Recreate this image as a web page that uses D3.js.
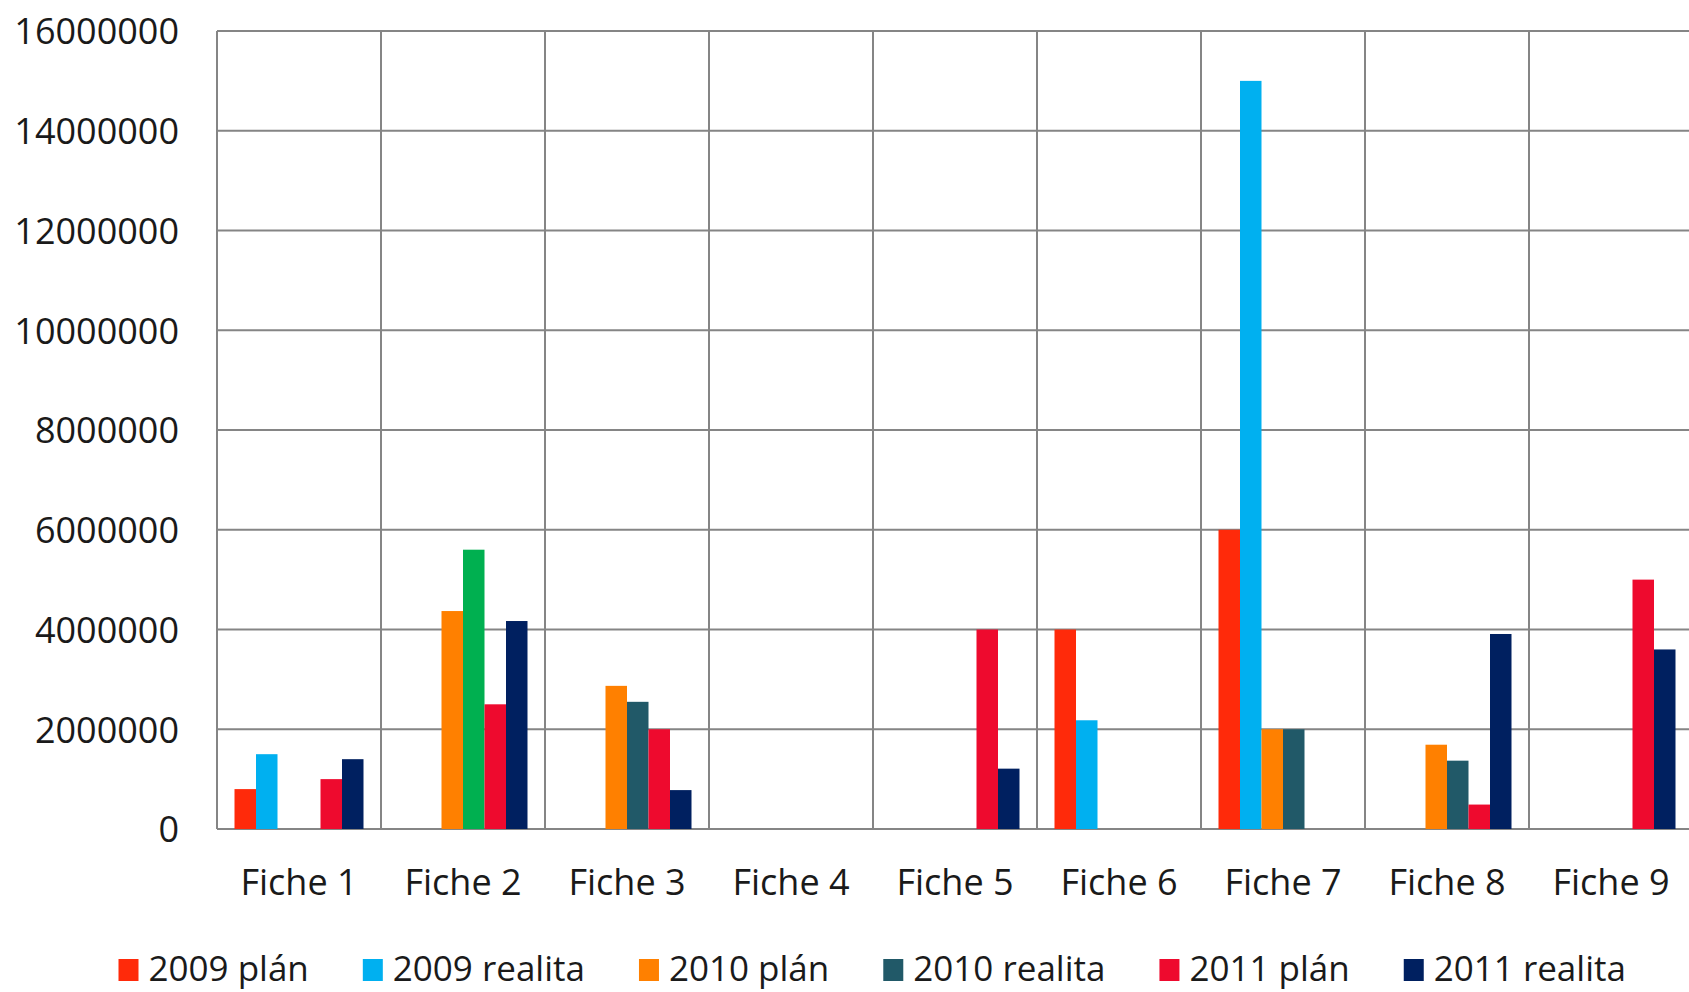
<!DOCTYPE html>
<html>
<head>
<meta charset="utf-8">
<script src="https://cdn.jsdelivr.net/npm/d3@7"></script>
<style>
  body { margin: 0; background: #fff; }
  svg { display: block; font-family: "Open Sans", sans-serif; }
</style>
</head>
<body>
<div id="chart"></div>
<script>
// categories and series
const categories = ["Fiche 1", "Fiche 2", "Fiche 3", "Fiche 4", "Fiche 5", "Fiche 6", "Fiche 7", "Fiche 8", "Fiche 9"];
const seriesNames = ["2009 plán", "2009 realita", "2010 plán", "2010 realita", "2011 plán", "2011 realita"];

const plan2009 = [800000, 0, 0, 0, 0, 4000000, 6000000, 0, 0];
const real2009 = [1500000, 0, 0, 0, 0, 2180000, 15000000, 0, 0];
const plan2010 = [0, 4370000, 2870000, 0, 0, 0, 2000000, 1690000, 0];
const real2010 = [0, 5600000, 2550000, 0, 0, 0, 2000000, 1370000, 0];
const plan2011 = [1000000, 2500000, 2000000, 0, 4000000, 0, 0, 490000, 5000000];
const real2011 = [1400000, 4170000, 780000, 0, 1210000, 0, 0, 3910000, 3600000];

const yTicks = [0, 2000000, 4000000, 6000000, 8000000, 10000000, 12000000, 14000000, 16000000];

const seriesValues = [plan2009, real2009, plan2010, real2010, plan2011, real2011];
const seriesColors = ["#FF2A0A", "#00B0F0", "#FF8000", "#215968", "#EE0A2E", "#002060"];
// one bar in the original has its own fill
const pointColors = { "Fiche 2|2010 realita": "#00B050" };

const W = 1689, H = 992;
const plotLeft = 217, plotTop = 31, plotBottom = 829, catWidth = 164;

const svg = d3.select("#chart").append("svg")
    .attr("width", W)
    .attr("height", H);

const x = d3.scaleBand()
    .domain(categories)
    .range([plotLeft, plotLeft + catWidth * categories.length])
    .padding(0);

const x1 = d3.scaleBand()
    .domain(seriesNames)
    .range([17.5, catWidth - 17.5])
    .padding(0);

const y = d3.scaleLinear()
    .domain([0, 16000000])
    .range([plotBottom, plotTop]);

const color = d3.scaleOrdinal().domain(seriesNames).range(seriesColors);

// grid
const grid = svg.append("g").attr("class", "grid")
    .attr("stroke", "#858585")
    .attr("stroke-width", 2);

grid.selectAll("line.h")
    .data(yTicks)
    .enter().append("line")
    .attr("class", "h")
    .attr("x1", plotLeft)
    .attr("x2", x.range()[1])
    .attr("y1", d => y(d))
    .attr("y2", d => y(d));

grid.selectAll("line.v")
    .data(categories)
    .enter().append("line")
    .attr("class", "v")
    .attr("x1", d => x(d))
    .attr("x2", d => x(d))
    .attr("y1", plotTop)
    .attr("y2", plotBottom);

// bars
const rows = [];
categories.forEach((c, i) => {
    seriesNames.forEach((s, j) => {
        if (seriesValues[j][i] > 0) rows.push({ cat: c, series: s, value: seriesValues[j][i] });
    });
});

svg.append("g").selectAll("rect")
    .data(rows)
    .enter().append("rect")
    .attr("x", d => x(d.cat) + x1(d.series))
    .attr("width", x1.bandwidth())
    .attr("y", d => y(d.value))
    .attr("height", d => y(0) - y(d.value))
    .attr("fill", d => pointColors[d.cat + "|" + d.series] || color(d.series));

// y axis labels
const yAxis = svg.append("g")
    .attr("transform", `translate(${plotLeft}, 0)`)
    .call(d3.axisLeft(y).tickValues(yTicks).tickFormat(d3.format("d")).tickSize(0).tickPadding(38));
yAxis.select(".domain").remove();
yAxis.selectAll("text")
    .style("font-size", "36px")
    .style("font-family", "'Open Sans', sans-serif")
    .attr("fill", "#1a1a1a")
    .attr("dy", "0.36em");

// x axis labels
const xAxis = svg.append("g")
    .attr("transform", `translate(0, ${plotBottom})`)
    .call(d3.axisBottom(x).tickSize(0).tickPadding(0));
xAxis.select(".domain").remove();
xAxis.selectAll("text")
    .style("font-size", "36px")
    .style("font-family", "'Open Sans', sans-serif")
    .attr("fill", "#1a1a1a")
    .attr("dy", null)
    .attr("y", 66);

// legend
const legend = svg.append("g").attr("class", "legend");
let lx = 118.5;
seriesNames.forEach((s, i) => {
    const g = legend.append("g").attr("transform", `translate(${lx}, 0)`);
    g.append("rect")
        .attr("x", 0)
        .attr("y", 959)
        .attr("width", 20)
        .attr("height", 22)
        .attr("fill", color(s));
    const t = g.append("text")
        .attr("x", 30)
        .attr("y", 981)
        .style("font-size", "35px")
        .attr("fill", "#1a1a1a")
        .text(s);
    lx += 30 + t.node().getComputedTextLength() + 54;
});
</script>
</body>
</html>
